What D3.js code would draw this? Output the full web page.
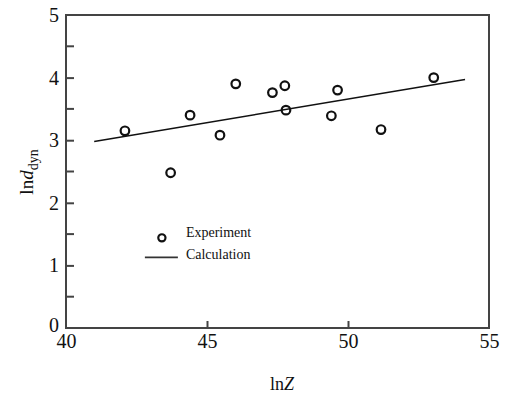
<!DOCTYPE html>
<html>
<head>
<meta charset="utf-8">
<script src="https://cdn.jsdelivr.net/npm/d3@7"></script>
<style>
  body { margin: 0; background: #fff; }
  text { font-family: "Liberation Serif", "DejaVu Serif", serif; fill: #111; }
</style>
</head>
<body>
<svg id="chart"></svg>
<script>
// experiment points (lnZ, ln d_dyn)
const expX = [42.09, 43.71, 44.40, 45.46, 46.02, 47.32, 47.76, 47.80, 49.63, 49.41, 51.17, 53.04];
const expY = [3.15, 2.48, 3.40, 3.08, 3.90, 3.76, 3.87, 3.48, 3.80, 3.39, 3.17, 4.00];

// calculation line
const calcX = [41.0, 54.15];
const calcY = [2.98, 3.97];

const xTicks = [40, 45, 50, 55];
const yTicks = [0, 1, 2, 3, 4, 5];
const yMinorTicks = [0.5, 1.5, 2.5, 3.5, 4.5];

const width = 513, height = 396;
const margin = {top: 15, right: 24, bottom: 68, left: 66};
const w = width - margin.left - margin.right;
const h = height - margin.top - margin.bottom;
const serif = '"Liberation Serif", "DejaVu Serif", serif';

const x = d3.scaleLinear().domain([40, 55]).range([0, w]);
const y = d3.scaleLinear().domain([0, 5]).range([h, 0]);

const svg = d3.select('#chart')
    .attr('width', width)
    .attr('height', height);

const g = svg.append('g')
    .attr('transform', `translate(${margin.left},${margin.top})`);

const axisColor = '#444';

// frame
g.append('rect')
    .attr('x', 0).attr('y', 0)
    .attr('width', w).attr('height', h)
    .attr('fill', 'none')
    .attr('stroke', axisColor)
    .attr('stroke-width', 2);

// x axis: ticks inside, labels below
const xAxis = g.append('g')
    .attr('transform', `translate(0,${h})`)
    .call(d3.axisBottom(x).tickValues(xTicks).tickSize(-7).tickPadding(6).tickFormat(d3.format('d')));
xAxis.select('.domain').remove();
xAxis.selectAll('line').attr('stroke', axisColor).attr('stroke-width', 2)
    .filter(d => d === 40 || d === 55).remove();
xAxis.selectAll('text')
    .style('font-family', serif)
    .style('font-size', '20px')
    .attr('fill', '#111');

// y axis: major + minor ticks inside
const yAxis = g.append('g')
    .call(d3.axisLeft(y).tickValues(yTicks).tickSize(-8).tickPadding(7).tickFormat(d3.format('d')));
yAxis.select('.domain').remove();
yAxis.selectAll('line').attr('stroke', axisColor).attr('stroke-width', 2)
    .filter(d => d === 0 || d === 5).remove();
yAxis.selectAll('text')
    .style('font-family', serif)
    .style('font-size', '20px')
    .attr('fill', '#111');
yAxis.selectAll('.tick').filter(d => d === 0).select('text').attr('dy', '0.15em');

g.append('g')
    .selectAll('line')
    .data(yMinorTicks)
    .join('line')
    .attr('x1', 0).attr('x2', 8)
    .attr('y1', d => y(d)).attr('y2', d => y(d))
    .attr('stroke', axisColor)
    .attr('stroke-width', 2);

// calculation line
const calc = calcX.map((d, i) => ({x: d, y: calcY[i]}));
g.append('path')
    .datum(calc)
    .attr('fill', 'none')
    .attr('stroke', '#111')
    .attr('stroke-width', 1.5)
    .attr('d', d3.line().x(d => x(d.x)).y(d => y(d.y)));

// experiment points
const pts = expX.map((d, i) => ({x: d, y: expY[i]}));
g.selectAll('circle.exp')
    .data(pts)
    .join('circle')
    .attr('class', 'exp')
    .attr('cx', d => x(d.x))
    .attr('cy', d => y(d.y))
    .attr('r', 4.3)
    .attr('fill', 'none')
    .attr('stroke', '#111')
    .attr('stroke-width', 2.2);

// legend
const leg = g.append('g').attr('transform', `translate(${x(43.4)},${y(1.44)})`);
leg.append('circle')
    .attr('cx', 0).attr('cy', 0).attr('r', 3.6)
    .attr('fill', 'none').attr('stroke', '#111').attr('stroke-width', 2.2);
leg.append('text')
    .attr('x', 24).attr('y', -5).attr('dy', '0.32em')
    .style('font-size', '14px')
    .text('Experiment');
leg.append('line')
    .attr('x1', -17).attr('x2', 16)
    .attr('y1', 19.5).attr('y2', 19.5)
    .attr('stroke', '#333').attr('stroke-width', 1.8);
leg.append('text')
    .attr('x', 24).attr('y', 17).attr('dy', '0.32em')
    .style('font-size', '14px')
    .text('Calculation');

// axis titles
svg.append('text')
    .attr('x', 282).attr('y', 390)
    .attr('text-anchor', 'middle')
    .style('font-size', '18px')
    .html('ln<tspan font-style="italic">Z</tspan>');

svg.append('text')
    .attr('transform', 'translate(33,172) rotate(-90)')
    .attr('text-anchor', 'middle')
    .style('font-size', '19px')
    .html('ln<tspan font-style="italic">d</tspan><tspan font-size="14px" dy="5">dyn</tspan>');
</script>
</body>
</html>
